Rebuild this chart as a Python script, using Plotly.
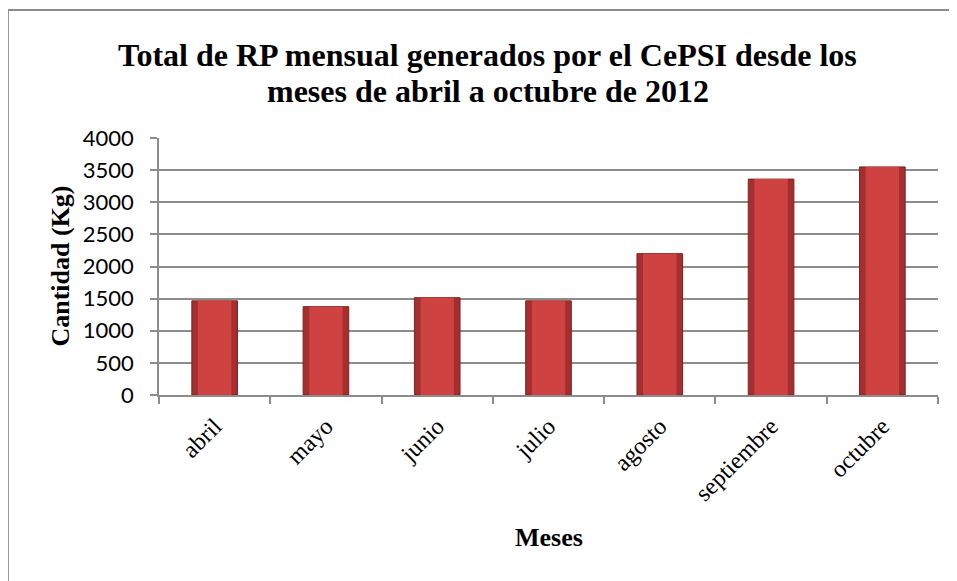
import plotly.graph_objects as go

meses = ["abril", "mayo", "junio", "julio", "agosto", "septiembre", "octubre"]
cantidad = [1465, 1375, 1515, 1465, 2200, 3360, 3550]
y_ticks = [0, 500, 1000, 1500, 2000, 2500, 3000, 3500, 4000]

titulo_1 = "Total de RP mensual generados por el CePSI desde los"
titulo_2 = "meses de abril a octubre de 2012"
x_titulo = "Meses"
y_titulo = "Cantidad (Kg)"

serif = "Liberation Serif, Times New Roman, serif"
grey = "#8C8C8C"

fig = go.Figure()
fig.add_trace(go.Bar(
    x=meses, y=cantidad, width=0.41,
    marker=dict(color="#A52E2E", line=dict(color="#7E2222", width=1)),
    hoverinfo="x+y", showlegend=False,
))
fig.add_trace(go.Bar(
    x=meses, y=cantidad, width=0.30,
    marker=dict(color="#CF4242", line=dict(width=0)),
    hoverinfo="skip", showlegend=False,
))

fig.update_layout(
    width=957, height=581,
    margin=dict(l=151, r=27, t=130, b=194),
    paper_bgcolor="white", plot_bgcolor="white",
    barmode="overlay",
    xaxis=dict(
        type="category", tickangle=-45, tickson="boundaries",
        ticks="outside", ticklen=7, tickcolor=grey, tickwidth=1.5,
        showline=True, linecolor=grey, linewidth=1.5,
        tickfont=dict(family=serif, size=24, color="black"),
        ticklabelstandoff=6,
        showgrid=False,
    ),
    yaxis=dict(
        range=[0, 4000], tickvals=y_ticks,
        ticks="outside", ticklen=7, tickcolor=grey, tickwidth=1.5,
        showline=True, linecolor=grey, linewidth=1.5,
        showgrid=True, gridcolor=grey, gridwidth=1.5,
        tickfont=dict(family="Lato, Carlito, sans-serif", size=22, color="black"),
        ticklabelstandoff=12, zeroline=False,
    ),
    annotations=[
        dict(text=titulo_1, xref="paper", yref="paper", x=0.422, y=1.323,
             showarrow=False, xanchor="center", yanchor="middle",
             font=dict(family=serif, size=32, color="black", weight="bold")),
        dict(text=titulo_2, xref="paper", yref="paper", x=0.422, y=1.183,
             showarrow=False, xanchor="center", yanchor="middle",
             font=dict(family=serif, size=32, color="black", weight="bold")),
        dict(text=x_titulo, xref="paper", yref="paper", x=0.5, y=-0.556,
             showarrow=False, xanchor="center", yanchor="middle",
             font=dict(family=serif, size=26, color="black", weight="bold")),
        dict(text=y_titulo, xref="paper", yref="paper", x=-0.127, y=0.5,
             showarrow=False, textangle=-90, xanchor="center", yanchor="middle",
             font=dict(family=serif, size=26, color="black", weight="bold")),
    ],
    shapes=[
        dict(type="line", xref="paper", yref="paper", x0=-0.194, x1=1.05, y0=1.498, y1=1.498,
             line=dict(color=grey, width=2)),
        dict(type="line", xref="paper", yref="paper", x0=-0.194, x1=-0.194, y0=1.498, y1=-0.76,
             line=dict(color=grey, width=2)),
    ],
)

fig.write_html("out.html")
